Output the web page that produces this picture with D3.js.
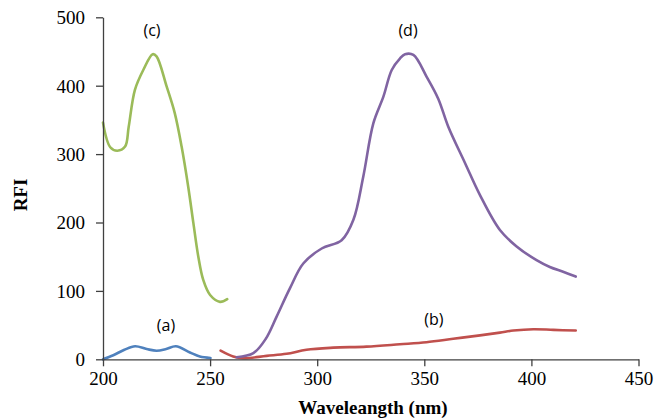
<!DOCTYPE html>
<html>
<head>
<meta charset="utf-8">
<script src="https://cdn.jsdelivr.net/npm/d3@7"></script>
<style>
  html, body { margin: 0; padding: 0; background: #fff; }
  svg { display: block; }
</style>
</head>
<body>
<svg id="chart" width="656" height="418"></svg>
<script>
// ---- Data ----
const seriesA_x = [200, 204.8, 210, 215, 220.4, 225, 229.5, 234, 240.6, 245.2, 250.2];
const seriesA_y = [0, 6, 14, 19, 15, 12.5, 15, 19, 10, 4, 2];

const seriesB_x = [254.9, 260.8, 265.5, 276.4, 285.7, 295, 307.5, 323, 338.6, 351, 363.5, 376, 385.3, 391.6, 400.9, 410.3, 420.7];
const seriesB_y = [12.6, 4, 1.5, 5, 8, 14, 17, 18.5, 22, 25, 30, 35, 39, 42, 44, 43, 42];

const seriesC_x = [200, 203.4, 206.7, 210.3, 212, 214.9, 218.8, 223.2, 225, 229.7, 233.5, 236.7, 239.8, 242.2, 244.5, 246.8, 250, 254.6, 258];
const seriesC_y = [346, 310, 305, 311, 340, 394, 423, 446, 443, 399, 360, 311, 252, 199, 150, 116, 94, 84, 88];

const seriesD_x = [262.4, 270.2, 276, 281, 287.3, 293.5, 302.1, 311.4, 316.9, 321.5, 326.2, 330.9, 334.8, 338.7, 341, 344.9, 351.1, 356.5, 361.2, 369, 376, 385.3, 393.1, 402.4, 408.6, 414.8, 420.7];
const seriesD_y = [3, 9, 30, 62, 104, 140, 162, 174, 204, 267, 345, 384, 423, 440, 446, 445, 413, 381, 340, 287, 240, 189, 165, 145, 135, 128, 121];

const xTicks = [200, 250, 300, 350, 400, 450];
const yTicks = [0, 100, 200, 300, 400, 500];

const labels = ["(a)", "(b)", "(c)", "(d)"];
const labelX = [229.4, 354.5, 222.9, 342.4];
const labelY = [41, 50, 473, 473];

const colors = ["#4F81BD", "#C0504D", "#9BBB59", "#8064A2"];

// ---- Layout ----
const svg = d3.select("#chart");
const mLeft = 103, mRight = 638.5, mTop = 17.3, mBottom = 359.3;

const x = d3.scaleLinear().domain([200, 450]).range([mLeft, mRight]);
const y = d3.scaleLinear().domain([0, 500]).range([mBottom, mTop]);

const series = [
  [seriesA_x, seriesA_y],
  [seriesB_x, seriesB_y],
  [seriesC_x, seriesC_y],
  [seriesD_x, seriesD_y]
];

const line = d3.line()
  .x(d => x(d[0]))
  .y(d => y(d[1]))
  .curve(d3.curveCatmullRom.alpha(0.5));

series.forEach((s, i) => {
  const pts = s[0].map((v, j) => [v, s[1][j]]);
  svg.append("path")
    .datum(pts)
    .attr("d", line)
    .attr("fill", "none")
    .attr("stroke", colors[i])
    .attr("stroke-width", 2.6)
    .attr("stroke-linejoin", "round")
    .attr("stroke-linecap", "round");
});

// Axes
const xAxis = d3.axisBottom(x).tickValues(xTicks).tickSize(7).tickPadding(5).tickSizeOuter(0);
const yAxis = d3.axisLeft(y).tickValues(yTicks).tickSize(7).tickPadding(11).tickSizeOuter(0);

const gx = svg.append("g").attr("transform", `translate(0,${mBottom})`).call(xAxis);
const gy = svg.append("g").attr("transform", `translate(${mLeft},0)`).call(yAxis);

[gx, gy].forEach(g => {
  g.select(".domain").attr("stroke", "#404040").attr("stroke-width", 1.3);
  g.selectAll(".tick line").attr("stroke", "#404040").attr("stroke-width", 1.3);
  g.selectAll(".tick text")
    .attr("fill", "#000")
    .style("font-family", "'Liberation Serif', 'Times New Roman', serif")
    .style("font-size", "19px");
});
gy.selectAll(".tick text").attr("dy", "0.34em");

// Axis titles
svg.append("text")
  .attr("x", 373)
  .attr("y", 414)
  .attr("text-anchor", "middle")
  .style("font-family", "'Liberation Serif', 'Times New Roman', serif")
  .style("font-size", "19px")
  .style("font-weight", "bold")
  .text("Waveleangth (nm)");

svg.append("text")
  .attr("transform", "translate(27,195) rotate(-90)")
  .attr("text-anchor", "middle")
  .style("font-family", "'Liberation Serif', 'Times New Roman', serif")
  .style("font-size", "19px")
  .style("font-weight", "bold")
  .text("RFI");

// Series labels
labels.forEach((t, i) => {
  svg.append("text")
    .attr("x", x(labelX[i]))
    .attr("y", y(labelY[i]))
    .attr("text-anchor", "middle")
    .style("font-family", "'Open Sans', 'Liberation Sans', sans-serif")
    .style("font-size", "16px")
    .attr("fill", "#000")
    .text(t);
});
</script>
</body>
</html>
